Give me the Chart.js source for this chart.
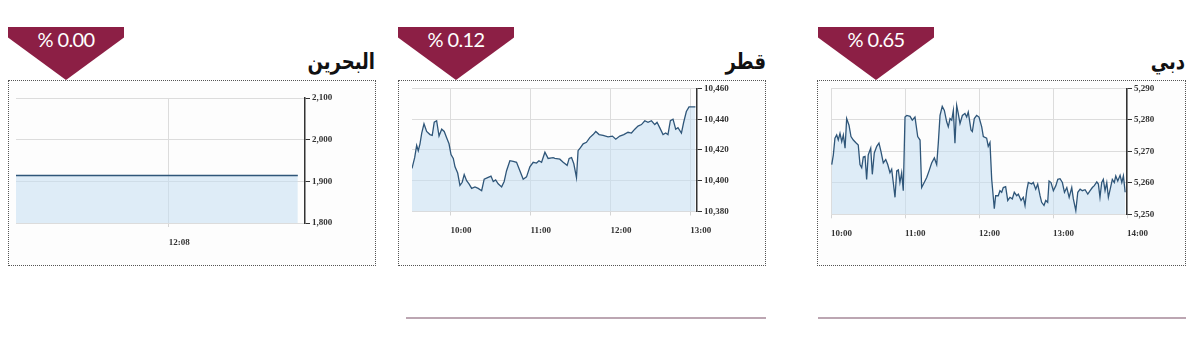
<!DOCTYPE html>
<html>
<head>
<meta charset="utf-8">
<script src="https://cdn.jsdelivr.net/npm/chart.js@4/dist/chart.umd.min.js"></script>
<style>
  body { margin: 0; background: #fff; width: 1200px; height: 359px; position: relative; overflow: hidden; }
  .badge { position: absolute; top: 27px; width: 116px; height: 53px; background: #8c1f45;
    clip-path: polygon(0 0, 100% 0, 100% 20%, 50% 100%, 0 20%); }
  .badge span { position: absolute; left: 0; top: 0; width: 100%; text-align: center; line-height: 32px;
    font: 20px Lato, sans-serif; letter-spacing: -0.6px; color: #fff; direction: ltr; }
  .title { position: absolute; top: 51px; width: 200px; text-align: right; direction: rtl;
    font: bold 22px "DejaVu Sans", sans-serif; line-height: 22px; color: #111;
    transform: scaleX(0.82); transform-origin: right center; }
  .box { position: absolute; top: 80px; height: 186px; box-sizing: border-box; border: 1px dotted #555; background: #fdfdfd; }
  .box canvas { display: block; }
  .rule { position: absolute; top: 317px; height: 2px; background: #bca6b2; }
</style>
</head>
<body>
<div class="badge" style="left:8px"><span>% 0.00</span></div>
<div class="badge" style="left:398px"><span>% 0.12</span></div>
<div class="badge" style="left:818px"><span>% 0.65</span></div>

<div class="title" style="left:175px">البحرين</div>
<div class="title" style="left:566px">قطر</div>
<div class="title" style="left:985px">دبي</div>

<div class="box" style="left:8px; width:368px"><canvas id="bahrain" width="366" height="184"></canvas></div>
<div class="box" style="left:398px; width:368px"><canvas id="qatar" width="366" height="184"></canvas></div>
<div class="box" style="left:817px; width:369px"><canvas id="dubai" width="367" height="184"></canvas></div>

<div class="rule" style="left:406px; width:360px"></div>
<div class="rule" style="left:818px; width:368px"></div>

<script>
// time in minutes since midnight, index level
var bahrainTimes = [600, 836];
var bahrainValues = [1914, 1914];
var bahrainXTicks = ['12:08'];
var bahrainYTicks = [1800, 1900, 2000, 2100];

var qatarTimes = [
  571, 573, 574.5, 575.7, 577, 578.3, 580, 582, 584.5, 586.2,
  587.7, 589.5, 591.3, 593.3, 595.2, 597, 598.8, 600.3, 602, 603.3,
  605.3, 607, 608.7, 610.2, 612, 613.8, 615.8, 618.3, 620.7, 623.3,
  625.2, 627.8, 630.3, 632, 633.8, 635.7, 638.3, 640.2, 642, 644.5,
  647, 649.5, 652, 654.5, 657, 659.5, 662, 664.5, 666.3, 668.3,
  670.8, 673.2, 677, 678.3, 682, 684.5, 687.5, 689, 690.8, 692.5,
  694.5, 695.7, 697.5, 699.5, 702, 704.5, 707, 709, 711.5, 714.5,
  718.2, 721.5, 724, 727, 730, 733.2, 735.8, 738.3, 740.7, 743.3,
  745.8, 748.2, 750.8, 753.3, 755, 757, 759.5, 761.5, 763.2, 765,
  767, 769, 770.7, 773.3, 775, 777, 779, 782, 783.8
];
var qatarValues = [
  10408, 10415, 10423, 10419.5, 10424, 10431, 10437, 10432, 10430, 10429.5,
  10438, 10439, 10429, 10433.5, 10432, 10428, 10424, 10417, 10414.5, 10409,
  10405, 10397, 10399, 10404, 10400, 10398, 10395, 10396, 10395, 10393.5,
  10401, 10402, 10403, 10399.5, 10400.5, 10398, 10396, 10399.5, 10406.5, 10413,
  10412.5, 10412, 10406.5, 10401, 10402.5, 10409, 10412, 10411.5, 10413, 10412,
  10418.5, 10414.5, 10415, 10414.5, 10414, 10412, 10410, 10414.5, 10415, 10411,
  10402, 10419.5, 10421.5, 10424, 10425, 10428, 10430, 10432, 10430, 10429.5,
  10428.5, 10429, 10427, 10429, 10430, 10431.5, 10431, 10433.5, 10435.5, 10436.5,
  10439, 10438, 10439, 10436.5, 10438, 10434.5, 10430, 10431, 10430, 10439,
  10440, 10433.5, 10434.5, 10431, 10438, 10445, 10448, 10448, 10448
];
var qatarXTicks = ['10:00', '11:00', '12:00', '13:00'];
var qatarYTicks = [10380, 10400, 10420, 10440, 10460];

var dubaiTimes = [
  600.6, 601.9, 603.2, 604.6, 605.9, 607.3, 608.7, 610, 611.4, 612.7,
  614.6, 616.2, 618.1, 620, 622.1, 623.5, 624.9, 626.2, 627.6, 628.9,
  630.2, 632.2, 633.5, 635.1, 637.1, 638.9, 640.5, 642.4, 644.4, 646,
  647.8, 649.2, 650.5, 651.9, 653.3, 654.6, 655.9, 657.3, 658.6, 660,
  661.4, 664.1, 665.9, 668.1, 670.3, 672.2, 673.5, 675.6, 677.6, 679.5,
  681.6, 683.8, 685.7, 687, 688.4, 690.2, 691.9, 693.8, 695.1, 696.5,
  697.9, 699.2, 700.5, 701.9, 703.2, 704.6, 706.5, 708.6, 710, 711.3,
  713.5, 714.6, 716.2, 718.1, 720, 722.2, 723.5, 726.2, 727.5, 728.9,
  730.3, 731.6, 732.4, 733.5, 735.6, 737, 738.4, 739.7, 741.6, 743.3,
  745.1, 747, 748.6, 750.6, 751.9, 754.1, 755.9, 757.3, 758.7, 760,
  762.7, 764, 766, 767.6, 769.5, 770.8, 772.7, 774.1, 775.7, 776.8,
  778.4, 780.3, 782.3, 783.9, 785.7, 787.6, 789.3, 791.2, 793.1, 795.2,
  796.5, 798.5, 800.1, 802, 803.8, 806, 808.2, 810.1, 811.9, 813.5,
  815.5, 816.8, 818.1, 819.5, 820.8, 822.2, 823.6, 824.9, 827, 828.1,
  829.7, 830.9, 832.5, 834.4, 835.8, 837.1, 838.5
];
var dubaiValues = [
  5265.8, 5268.9, 5274.2, 5275.2, 5273.6, 5275.7, 5273.1, 5275.2, 5271, 5280.4,
  5278.3, 5274.7, 5273.6, 5272.8, 5272, 5265.8, 5264.8, 5268.2, 5268.4, 5261.1,
  5268.9, 5271, 5262.7, 5269.5, 5271.6, 5272.6, 5270, 5266.3, 5267.4, 5265.8,
  5263.2, 5264.3, 5260.1, 5255.4, 5263.8, 5264.1, 5260.1, 5263.2, 5257.5, 5280.9,
  5281.4, 5281.1, 5279.9, 5280.9, 5274.7, 5273.6, 5258.5, 5260.1, 5261.7, 5263.8,
  5266.3, 5267.9, 5265.8, 5272.6, 5281.4, 5284.3, 5283, 5279.4, 5277.8, 5280.4,
  5279.9, 5283, 5272.6, 5284.6, 5282, 5278.8, 5281.4, 5282, 5280.9, 5282.5,
  5276.8, 5276.3, 5280.4, 5281.4, 5280.9, 5277.8, 5274.7, 5274.2, 5271.6, 5272.8,
  5261.1, 5255.4, 5251.8, 5255.9, 5255.9, 5257.5, 5257, 5258.5, 5258.8, 5254.4,
  5255.4, 5254.9, 5257, 5255.9, 5256.4, 5254.4, 5255.4, 5252.8, 5257.5, 5260.1,
  5259.6, 5260.1, 5258, 5259.6, 5255.9, 5253.8, 5252.8, 5254.4, 5253.8, 5260.6,
  5260.1, 5257.5, 5259.1, 5261.1, 5261.3, 5260.1, 5257, 5258.5, 5255.4, 5258.5,
  5254.9, 5251.2, 5257, 5258, 5257.5, 5257.8, 5256.4, 5257.5, 5258.5, 5259.1,
  5260.3, 5259.6, 5255.4, 5260.1, 5261.1, 5257.5, 5260.1, 5255.4, 5259.1, 5261.1,
  5260.1, 5262.2, 5260.6, 5262.4, 5260.1, 5262.2, 5257
];
var dubaiXTicks = ['10:00', '11:00', '12:00', '13:00', '14:00'];
var dubaiYTicks = [5250, 5260, 5270, 5280, 5290];

function parseTime(s) {
    var p = s.split(':');
    return parseInt(p[0], 10) * 60 + parseInt(p[1], 10);
}
function timeLabel(m) {
    var h = Math.floor(m / 60);
    var mm = Math.round(m % 60);
    return (h < 10 ? '0' : '') + h + ':' + (mm < 10 ? '0' : '') + mm;
}

var tickFont = { family: '"Liberation Serif", serif', size: 9, weight: 'bold' };

function drawPanel(id, times, values, xTicks, yTicks, o) {
    var points = times.map(function(t, i) { return { x: t, y: values[i] }; });
    new Chart(document.getElementById(id), {
        type: 'line',
        data: {
            datasets: [{
                data: points,
                borderColor: '#2f5679',
                borderWidth: 1.3,
                backgroundColor: 'rgba(196,222,243,0.55)',
                fill: 'start',
                pointRadius: 0,
                tension: 0
            }]
        },
        options: {
            responsive: false,
            animation: false,
            layout: { padding: o.padding },
            plugins: { legend: { display: false }, tooltip: { enabled: false } },
            scales: {
                x: {
                    type: 'linear',
                    min: o.xMin,
                    max: o.xMax,
                    afterBuildTicks: function(s) {
                        s.ticks = xTicks.map(function(t) { return { value: parseTime(t) }; });
                    },
                    afterFit: function(s) { s.height = 30; },
                    ticks: {
                        callback: function(v) { return timeLabel(v); },
                        align: 'start',
                        padding: 10,
                        maxRotation: 0,
                        autoSkip: false,
                        font: tickFont,
                        color: '#333'
                    },
                    grid: { color: '#dcdcdc', tickColor: '#d4d4d4', tickLength: 4 },
                    border: { display: false }
                },
                y: {
                    position: 'right',
                    min: yTicks[0],
                    max: yTicks[yTicks.length - 1],
                    afterBuildTicks: function(s) {
                        s.ticks = yTicks.map(function(v) { return { value: v }; });
                    },
                    afterFit: function(s) { s.width = o.yWidth; },
                    ticks: {
                        callback: function(v) { return v.toLocaleString('en-US'); },
                        padding: 2,
                        font: tickFont,
                        color: '#333'
                    },
                    grid: { color: '#dcdcdc', tickColor: '#333', tickLength: 5 },
                    border: { display: true, color: '#333', width: 1.5 }
                }
            }
        }
    });
}

drawPanel('bahrain', bahrainTimes, bahrainValues, bahrainXTicks, bahrainYTicks, {
    xMin: 600, xMax: 842, yWidth: 50,
    padding: { left: 7, top: 17, right: 20, bottom: 12 }
});
drawPanel('qatar', qatarTimes, qatarValues, qatarXTicks, qatarYTicks, {
    xMin: 571, xMax: 785, yWidth: 50,
    padding: { left: 13, top: 6, right: 18, bottom: 23.5 }
});
drawPanel('dubai', dubaiTimes, dubaiValues, dubaiXTicks, dubaiYTicks, {
    xMin: 600, xMax: 840, yWidth: 45,
    padding: { left: 13, top: 5.7, right: 13, bottom: 20.7 }
});
</script>
</body>
</html>
